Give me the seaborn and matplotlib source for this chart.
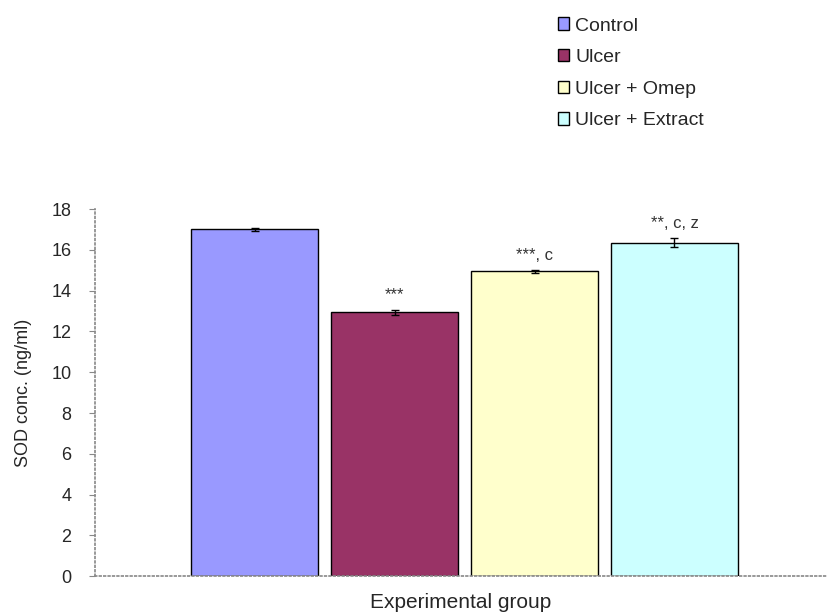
import pandas as pd
import seaborn as sns
import matplotlib.pyplot as plt
from matplotlib.patches import Patch

groups = ["Control", "Ulcer", "Ulcer + Omep", "Ulcer + Extract"]
sod_mean = [17.0, 12.95, 14.95, 16.35]
sod_err = [0.05, 0.12, 0.06, 0.22]
sig_labels = ["", "***", "***, c", "**, c, z"]
bar_colors = ["#9999FF", "#993366", "#FFFFCC", "#CCFFFF"]

df = pd.DataFrame({"group": groups, "sod": sod_mean})

sns.set_style("white")
plt.rcParams['font.family'] = ['Liberation Sans', 'DejaVu Sans']

fig = plt.figure(figsize=(8.27, 6.15), dpi=100)
ax = fig.add_axes([0.115, 0.063, 0.885, 0.597])

sns.barplot(data=df, x="group", y="sod", hue="group", palette=bar_colors, saturation=1,
            width=0.91, edgecolor="black", linewidth=1.0, legend=False, ax=ax)
ax.errorbar(range(len(groups)), sod_mean, yerr=sod_err, fmt="none",
            ecolor="black", elinewidth=1, capsize=3)

# significance marks above bars
for i, (m, e, s) in enumerate(zip(sod_mean, sod_err, sig_labels)):
    if s:
        ax.text(i, m + e + 0.35, s, ha="center", va="bottom", fontsize=12, color="#333333")

ax.set_xlim(-1.14, 4.09)
ax.set_ylim(0, 18)
ax.set_yticks(range(0, 19, 2))
ax.set_xticks([])
ax.tick_params(axis="y", labelsize=13, length=4, pad=13, direction="out", left=True, color="#888888")
ax.set_ylabel("SOD conc. (ng/ml)", fontsize=13, labelpad=14)
ax.set_xlabel("Experimental group", fontsize=15, labelpad=12)

for side in ["top", "right"]:
    ax.spines[side].set_visible(False)
for side in ["left", "bottom"]:
    ax.spines[side].set_linestyle(":")
    ax.spines[side].set_color("#888888")
    ax.spines[side].set_linewidth(1.2)

handles = [Patch(facecolor=c, edgecolor="black", label=g) for g, c in zip(groups, bar_colors)]
fig.legend(handles=handles, loc="upper left", bbox_to_anchor=(0.653, 1.0), frameon=False,
           fontsize=14, handlelength=0.6, handleheight=0.6, handletextpad=0.3, labelspacing=0.75)

fig.savefig("out.png", dpi=100)
